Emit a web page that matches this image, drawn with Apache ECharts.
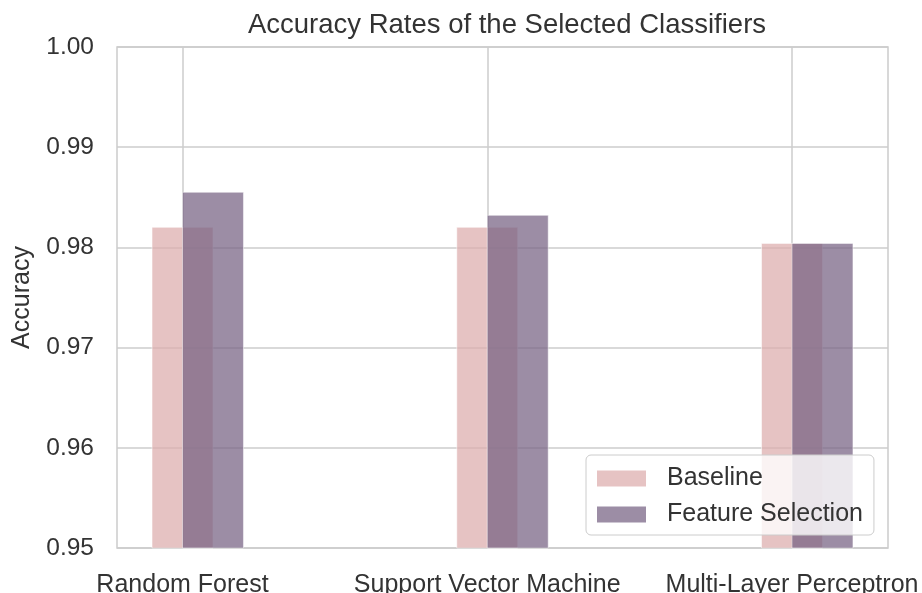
<!DOCTYPE html>
<html>
<head>
<meta charset="utf-8">
<script src="https://cdn.jsdelivr.net/npm/echarts@6/dist/echarts.min.js"></script>
<style>
html,body{margin:0;padding:0;background:#fff;}
#chart{width:922px;height:593px;}
</style>
</head>
<body>
<div id="chart"></div>
<script>
const categories = ['Random Forest', 'Support Vector Machine', 'Multi-Layer Perceptron'];
const baseline = [0.9820, 0.9820, 0.9804];
const featureSelection = [0.9855, 0.9832, 0.9804];
const yTicks = [0.95, 0.96, 0.97, 0.98, 0.99, 1.00];

const FONT = 'Liberation Sans, Arial, sans-serif';
const chart = echarts.init(document.getElementById('chart'), null, {renderer: 'canvas'});

function barRenderer(x0, x1) {
  return function (params, api) {
    const x = api.value(0);
    const y = api.value(1);
    const p1 = api.coord([x + x0, y]);
    const p2 = api.coord([x + x1, 0.95]);
    return {
      type: 'rect',
      shape: {x: p1[0], y: p1[1], width: p2[0] - p1[0], height: p2[1] - p1[1]},
      style: api.style({stroke: 'rgba(255,255,255,0.5)', lineWidth: 1})
    };
  };
}

const option = {
  animation: false,
  backgroundColor: '#ffffff',
  title: {
    text: 'Accuracy Rates of the Selected Classifiers',
    left: 502, top: 6, textAlign: 'center',
    textStyle: {fontFamily: FONT, fontSize: 27.5, fontWeight: 'normal', color: '#333333'}
  },
  legend: {
    left: 586, top: 455,
    orient: 'vertical',
    itemWidth: 49, itemHeight: 16, itemGap: 11,
    padding: [11, 11, 8, 11],
    backgroundColor: 'rgba(255,255,255,0.8)',
    borderColor: '#cccccc', borderWidth: 1, borderRadius: 5,
    textStyle: {fontFamily: FONT, fontSize: 25, color: '#333333', padding: [0, 0, 0, 16]},
    data: [{name: 'Baseline', icon: 'rect'}, {name: 'Feature Selection', icon: 'rect'}]
  },
  grid: {
    left: 117, right: 34, top: 47, bottom: 45,
    outerBoundsMode: 'none', containLabel: false,
    show: true, borderColor: '#cccccc', borderWidth: 1.5, backgroundColor: 'transparent'
  },
  xAxis: {
    type: 'value', min: -0.215, max: 2.315,
    axisLine: {show: false},
    axisTick: {show: false, customValues: [0, 1, 2]},
    axisLabel: {
      customValues: [0, 1, 2],
      formatter: v => categories[Math.round(v)] || '',
      fontFamily: FONT, fontSize: 25, color: '#333333', margin: 25
    },
    splitLine: {show: true, lineStyle: {color: '#cccccc', width: 1.5}}
  },
  yAxis: {
    type: 'value', min: 0.95, max: 1.0, interval: 0.01,
    name: 'Accuracy', nameLocation: 'middle', nameRotate: 90, nameGap: 82,
    nameTextStyle: {fontFamily: FONT, fontSize: 25, color: '#333333'},
    axisLine: {show: false},
    axisTick: {show: false},
    axisLabel: {
      fontFamily: FONT, fontSize: 24.5, color: '#333333', margin: 23,
      formatter: v => {
        const t = yTicks.find(k => Math.abs(k - v) < 1e-6);
        return t !== undefined ? t.toFixed(2) : '';
      }
    },
    splitLine: {show: true, lineStyle: {color: '#cccccc', width: 1.5}}
  },
  series: [
    {
      name: 'Baseline', type: 'custom',
      itemStyle: {color: 'rgba(220,172,172,0.72)'},
      encode: {x: 0, y: 1},
      renderItem: barRenderer(-0.1, 0.1),
      data: categories.map((c, i) => [i, baseline[i]])
    },
    {
      name: 'Feature Selection', type: 'custom',
      itemStyle: {color: 'rgba(118,97,130,0.72)'},
      encode: {x: 0, y: 1},
      renderItem: barRenderer(0, 0.2),
      data: categories.map((c, i) => [i, featureSelection[i]])
    }
  ]
};
chart.setOption(option);
</script>
</body>
</html>
